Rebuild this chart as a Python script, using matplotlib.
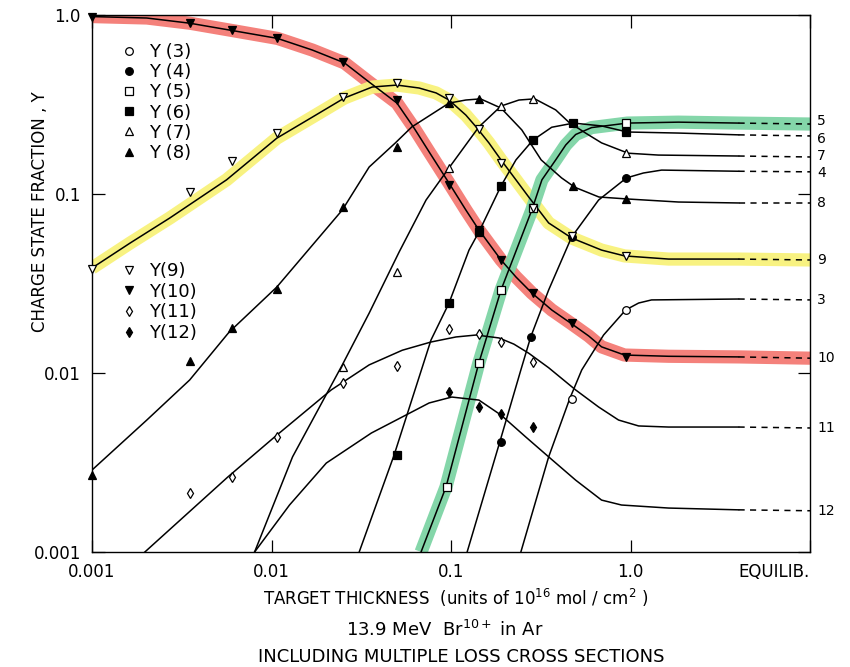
import matplotlib.pyplot as plt
from matplotlib.lines import Line2D

plt.rcParams['font.family'] = ['DejaVu Sans']

#### curves: thickness (1e16 mol/cm2), charge fraction ####
# last point of each curve is the equilibrium value (dashed part)
y3_x = [0.245, 0.35, 0.458, 0.535, 0.708, 0.94, 1.11, 1.31, 4.0, 10]
y3_y = [0.001, 0.0034, 0.00716, 0.0104, 0.0163, 0.0225, 0.0246, 0.0256, 0.0259, 0.0256]
y4_x = [0.123, 0.187, 0.245, 0.278, 0.35, 0.47, 0.664, 0.95, 1.18, 1.49, 4.0, 10]
y4_y = [0.001, 0.00412, 0.0104, 0.0159, 0.0291, 0.0575, 0.0925, 0.123, 0.131, 0.136, 0.134, 0.133]
y5_x = [0.0681, 0.0938, 0.143, 0.19, 0.282, 0.321, 0.383, 0.436, 0.495, 0.607, 0.96, 1.85, 4.0, 10]
y5_y = [0.001, 0.00231, 0.0114, 0.0291, 0.0814, 0.12, 0.155, 0.188, 0.215, 0.235, 0.249, 0.252, 0.249, 0.246]
y6_x = [0.0308, 0.0482, 0.0774, 0.0975, 0.126, 0.143, 0.19, 0.23, 0.286, 0.364, 0.482, 0.69, 0.96, 1.85, 4.0, 10]
y6_y = [0.001, 0.00348, 0.0153, 0.0246, 0.0486, 0.0613, 0.111, 0.155, 0.2, 0.236, 0.249, 0.24, 0.222, 0.219, 0.214, 0.211]
y7_x = [0.00805, 0.0131, 0.0248, 0.035, 0.0514, 0.0726, 0.0975, 0.143, 0.19, 0.239, 0.293, 0.383, 0.453, 0.562, 0.69, 0.97, 1.43, 4.0, 10]
y7_y = [0.001, 0.0034, 0.0111, 0.0216, 0.0474, 0.0925, 0.14, 0.237, 0.31, 0.335, 0.34, 0.295, 0.252, 0.219, 0.193, 0.169, 0.165, 0.163, 0.161]
y8_x = [0.001, 0.00202, 0.0035, 0.0058, 0.0107, 0.0248, 0.035, 0.049, 0.0605, 0.0975, 0.121, 0.146, 0.19, 0.248, 0.318, 0.413, 0.49, 0.667, 0.96, 1.85, 4.0, 10]
y8_y = [0.00287, 0.00546, 0.00914, 0.0169, 0.0302, 0.0814, 0.1415, 0.193, 0.237, 0.322, 0.335, 0.34, 0.302, 0.228, 0.155, 0.123, 0.109, 0.0962, 0.0938, 0.0902, 0.0891, 0.0891]
y9_x = [0.001, 0.00163, 0.00271, 0.00562, 0.0107, 0.0169, 0.0255, 0.0364, 0.05, 0.0664, 0.0826, 0.0975, 0.121, 0.138, 0.1626, 0.19, 0.23, 0.271, 0.35, 0.47, 0.69, 0.926, 1.63, 4.0, 10]
y9_y = [0.0386, 0.0532, 0.0734, 0.12, 0.205, 0.269, 0.344, 0.396, 0.406, 0.391, 0.367, 0.335, 0.276, 0.237, 0.193, 0.155, 0.12, 0.0962, 0.0689, 0.0568, 0.0486, 0.0451, 0.0433, 0.0433, 0.0428]
y10_x = [0.001, 0.00202, 0.0035, 0.006, 0.0108, 0.0169, 0.0255, 0.035, 0.05, 0.0622, 0.0755, 0.0975, 0.121, 0.143, 0.19, 0.23, 0.282, 0.364, 0.464, 0.585, 0.69, 0.926, 1.63, 4.0, 10]
y10_y = [0.98, 0.962, 0.90, 0.82, 0.74, 0.637, 0.54, 0.422, 0.322, 0.234, 0.172, 0.115, 0.0814, 0.063, 0.0428, 0.0344, 0.028, 0.0225, 0.019, 0.0161, 0.014, 0.0126, 0.0124, 0.0123, 0.0121]
y11_x = [0.00197, 0.0057, 0.0104, 0.0215, 0.035, 0.0535, 0.0774, 0.1067, 0.138, 0.185, 0.224, 0.271, 0.35, 0.495, 0.664, 0.858, 1.11, 1.63, 4.0, 10]
y11_y = [0.001, 0.00262, 0.00439, 0.00804, 0.0111, 0.0134, 0.0149, 0.0159, 0.0163, 0.0157, 0.0145, 0.0129, 0.0107, 0.00804, 0.00646, 0.00546, 0.00506, 0.00499, 0.00499, 0.00493]
y12_x = [0.00805, 0.0126, 0.0202, 0.036, 0.0535, 0.0755, 0.101, 0.143, 0.19, 0.261, 0.35, 0.495, 0.69, 0.891, 1.63, 4.0, 10]
y12_y = [0.001, 0.00183, 0.00314, 0.00462, 0.00568, 0.0068, 0.00734, 0.00706, 0.00582, 0.00439, 0.0034, 0.00252, 0.00195, 0.00183, 0.00176, 0.00172, 0.0017]

#### measured points ####
y3_mx = [0.47, 0.94]
y3_my = [0.00716, 0.0225]
y4_mx = [0.19, 0.28, 0.47, 0.94]
y4_my = [0.00412, 0.0159, 0.0575, 0.123]
y5_mx = [0.095, 0.143, 0.19, 0.286, 0.94]
y5_my = [0.00231, 0.0114, 0.0291, 0.0835, 0.249]
y6_mx = [0.05, 0.098, 0.143, 0.19, 0.286, 0.48, 0.94]
y6_my = [0.0035, 0.0246, 0.0613, 0.111, 0.2, 0.249, 0.222]
y7_mx = [0.025, 0.05, 0.098, 0.19, 0.286, 0.94]
y7_my = [0.0108, 0.0367, 0.14, 0.31, 0.34, 0.169]
y8_mx = [0.001, 0.0035, 0.006, 0.0107, 0.025, 0.05, 0.098, 0.143, 0.48, 0.94]
y8_my = [0.00269, 0.0117, 0.0178, 0.0295, 0.0846, 0.183, 0.322, 0.34, 0.111, 0.0938]
y9_mx = [0.001, 0.0035, 0.006, 0.0107, 0.025, 0.05, 0.098, 0.143, 0.19, 0.286, 0.47, 0.94]
y9_my = [0.038, 0.103, 0.153, 0.219, 0.348, 0.417, 0.344, 0.231, 0.149, 0.0835, 0.0582, 0.0451]
y10_mx = [0.001, 0.0035, 0.006, 0.0107, 0.025, 0.05, 0.098, 0.143, 0.19, 0.286, 0.47, 0.94]
y10_my = [0.98, 0.90, 0.82, 0.74, 0.546, 0.335, 0.112, 0.063, 0.0428, 0.028, 0.019, 0.0123]
y11_mx = [0.0035, 0.006, 0.0107, 0.025, 0.05, 0.098, 0.143, 0.19, 0.286]
y11_my = [0.00214, 0.00262, 0.00439, 0.00879, 0.0109, 0.0176, 0.0165, 0.0149, 0.0115]
y12_mx = [0.098, 0.143, 0.19, 0.286]
y12_my = [0.00783, 0.00646, 0.0059, 0.00499]

x_ticks = [0.001, 0.01, 0.1, 1.0, 10]
x_labels = ['0.001', '0.01', '0.1', '1.0', 'EQUILIB.']
y_ticks = [0.001, 0.01, 0.1, 1.0]
y_labels = ['0.001', '0.01', '0.1', '1.0']

series = [
    # name, curve x, curve y, points x, points y, marker, filled, label nudge (pt)
    ('3', y3_x, y3_y, y3_mx, y3_my, 'o', False, 0),
    ('4', y4_x, y4_y, y4_mx, y4_my, 'o', True, -1.2),
    ('5', y5_x, y5_y, y5_mx, y5_my, 's', False, 2.2),
    ('6', y6_x, y6_y, y6_mx, y6_my, 's', True, -2.1),
    ('7', y7_x, y7_y, y7_mx, y7_my, '^', False, 0.7),
    ('8', y8_x, y8_y, y8_mx, y8_my, '^', True, 0),
    ('9', y9_x, y9_y, y9_mx, y9_my, 'v', False, 0),
    ('10', y10_x, y10_y, y10_mx, y10_my, 'v', True, 0),
    ('11', y11_x, y11_y, y11_mx, y11_my, 'd', False, 0),
    ('12', y12_x, y12_y, y12_mx, y12_my, 'd', True, 0),
]

fig = plt.figure(figsize=(8.5, 6.67), dpi=100)
ax = fig.add_axes([92/850, 1 - 552/667, 718/850, 537/667])
ax.set_xscale('log')
ax.set_yscale('log')
ax.set_xlim(0.001, 10)
ax.set_ylim(0.001, 1.0)

#### highlighter bands ####
ax.plot(y10_x, y10_y, color='#f4817b', lw=9.5, solid_capstyle='butt',
        solid_joinstyle='round', zorder=1)
ax.plot(y9_x, y9_y, color='#f8f27a', lw=9.5, solid_capstyle='butt',
        solid_joinstyle='round', zorder=1, alpha=0.95)
ax.plot(y5_x, y5_y, color='#7dd4a5', lw=9.5, solid_capstyle='butt',
        solid_joinstyle='round', zorder=1, alpha=0.95)

#### curves, points, end labels ####
for name, cx, cy, mx, my, m, filled, dy in series:
    ax.plot(cx[:-1], cy[:-1], color='k', lw=1.1, zorder=2)
    ax.plot(cx[-2:], cy[-2:], color='k', lw=1.1, ls=(0, (4, 3.5)), zorder=2)
    ax.plot(mx, my, ls='none', marker=m, ms=5.5, mew=0.9, mec='k',
            mfc='k' if filled else 'white', zorder=3, clip_on=False)
    ax.annotate(name, xy=(1, cy[-1]), xycoords=('axes fraction', 'data'),
                xytext=(5, dy), textcoords='offset points', va='center',
                ha='left', fontsize=10)

#### legends ####
def handles(rows):
    return [Line2D([], [], ls='none', marker=s[5], ms=5.5, mew=0.9, mec='k',
                   mfc='k' if s[6] else 'white') for s in rows]

leg1 = ax.legend(handles(series[:6]), ['Y (%s)' % s[0] for s in series[:6]],
                 loc='upper left', bbox_to_anchor=(111/850, 1 - 34/667),
                 bbox_transform=fig.transFigure, frameon=False, fontsize=13,
                 handlelength=1.0, handletextpad=0.6, labelspacing=0.12,
                 borderpad=0)
ax.add_artist(leg1)
ax.legend(handles(series[6:]), ['Y(%s)' % s[0] for s in series[6:]],
          loc='upper left', bbox_to_anchor=(111/850, 1 - 253/667),
          bbox_transform=fig.transFigure, frameon=False, fontsize=13,
          handlelength=1.0, handletextpad=0.6, labelspacing=0.15, borderpad=0)

#### axes cosmetics ####
ax.set_xticks(x_ticks)
ax.set_xticklabels(x_labels)
ax.set_yticks(y_ticks)
ax.set_yticklabels(y_labels)
ax.minorticks_off()
ax.tick_params(which='both', direction='in', length=9, width=0.9,
               top=True, right=True, labelsize=12, pad=8)
ax.get_xticklabels()[-1].set_ha('right')
for sp in ax.spines.values():
    sp.set_linewidth(1.0)

fig.text(40/850, 1 - 212/667, 'CHARGE STATE FRACTION , Y', rotation=90,
         ha='center', va='center', fontsize=12)
fig.text(456/850, 1 - 598/667,
         'TARGET THICKNESS  (units of 10$^{16}$ mol / cm$^{2}$ )',
         ha='center', va='center', fontsize=12)
fig.text(445/850, 1 - 630/667, '13.9 MeV  Br$^{10+}$ in Ar',
         ha='center', va='center', fontsize=13)
fig.text(461/850, 1 - 657/667, 'INCLUDING MULTIPLE LOSS CROSS SECTIONS',
         ha='center', va='center', fontsize=13)

fig.savefig('out.png', dpi=100)
